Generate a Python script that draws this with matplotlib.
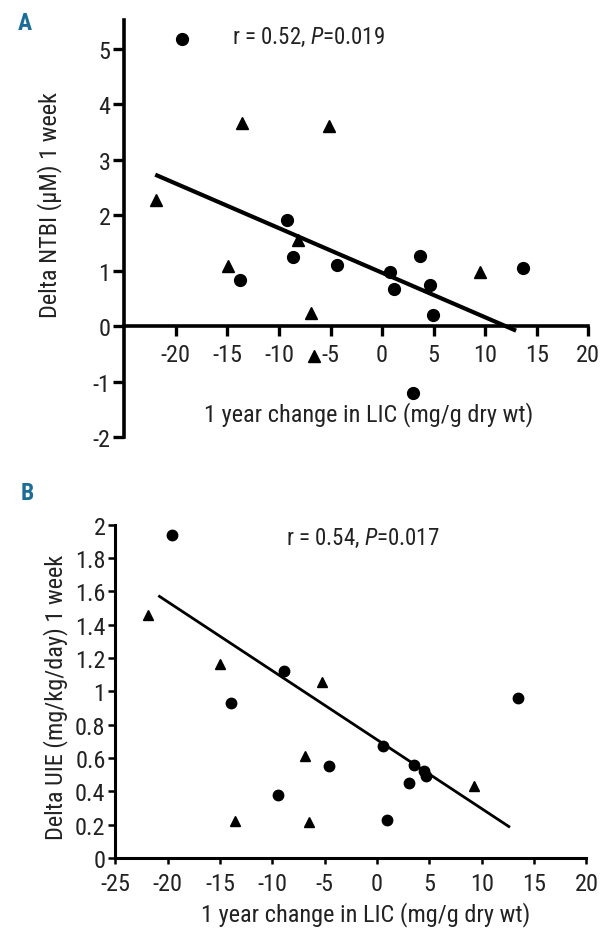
import matplotlib
matplotlib.use("Agg")
import matplotlib.pyplot as plt
from matplotlib import font_manager as fm

# pick a condensed sans that is installed
have = set(f.name for f in fm.fontManager.ttflist)
font = next(n for n in ['Roboto Condensed', 'Fira Sans Condensed', 'Sofia Sans Condensed', 'DejaVu Sans']
            if n in have)
plt.rcParams['font.family'] = [font, 'DejaVu Sans']
plt.rcParams['axes.unicode_minus'] = False
plt.rcParams['mathtext.fontset'] = 'custom'
plt.rcParams['mathtext.rm'] = font
plt.rcParams['mathtext.it'] = font + ':italic'

# panel A: delta NTBI vs change in LIC
a_circ_x = [-19.45, -9.2, -8.68, -13.82, -4.36, 0.74, 1.19, 3.71, 4.68, 4.95, 13.65, 3.0]
a_circ_y = [5.17, 1.91, 1.24, 0.83, 1.10, 0.97, 0.67, 1.27, 0.74, 0.20, 1.05, -1.20]
a_tri_x = [-21.9, -13.55, -5.1, -8.2, -14.95, -6.85, -6.6, 9.45]
a_tri_y = [2.28, 3.66, 3.60, 1.55, 1.08, 0.24, -0.53, 0.97]
a_fit_x = [-22.0, 13.0]
a_fit_y = [2.73, -0.08]
a_xticks = [-20, -15, -10, -5, 0, 5, 10, 15, 20]
a_yticks = [-2, -1, 0, 1, 2, 3, 4, 5]

# panel B: delta UIE vs change in LIC
b_circ_x = [-19.6, -8.85, -13.97, 0.54, -4.61, -9.42, 3.5, 4.45, 4.63, 3.05, 0.99, 13.5]
b_circ_y = [1.94, 1.12, 0.93, 0.67, 0.55, 0.38, 0.56, 0.52, 0.49, 0.45, 0.23, 0.96]
b_tri_x = [-21.84, -15.0, -5.25, -6.88, -13.56, -6.53, 9.3]
b_tri_y = [1.46, 1.165, 1.055, 0.61, 0.224, 0.218, 0.43]
b_fit_x = [-20.89, 12.7]
b_fit_y = [1.574, 0.184]
b_xticks = [-25, -20, -15, -10, -5, 0, 5, 10, 15, 20]
b_yticks = [0, 0.2, 0.4, 0.6, 0.8, 1.0, 1.2, 1.4, 1.6, 1.8, 2.0]
b_yticklabels = ['0', '0.2', '0.4', '0.6', '0.8', '1', '1.2', '1.4', '1.6', '1.8', '2']

fs = 17.5
fs_r = 16.5
teal = '#1b6f96'
txt = '#222222'

fig = plt.figure(figsize=(6.03, 9.29), dpi=100)

# ---- A ----
ax = fig.add_axes([0.2061, 0.5282, 0.7695, 0.4495])
ax.plot(a_circ_x, a_circ_y, 'o', color='black', markersize=8.5, clip_on=False)
ax.plot(a_tri_x, a_tri_y, '^', color='black', markersize=8, clip_on=False)
ax.plot(a_fit_x, a_fit_y, '-', color='black', lw=3, solid_capstyle='butt', clip_on=False)
ax.set_xlim(-25, 20)
ax.set_ylim(-2, 5.52)
ax.spines['right'].set_visible(False)
ax.spines['top'].set_visible(False)
ax.spines['bottom'].set_position(('data', 0))
for s in ['left', 'bottom']:
    ax.spines[s].set_linewidth(2.6)
ax.set_xticks(a_xticks)
ax.set_yticks(a_yticks)
ax.tick_params(axis='both', direction='out', width=2.4, labelsize=fs, colors='black',
               labelcolor=txt)
ax.tick_params(axis='x', length=7, pad=5)
ax.tick_params(axis='y', length=8, pad=2)
ax.set_xlabel('1 year change in LIC (mg/g dry wt)', fontsize=fs, va='center', color=txt)
ax.xaxis.set_label_coords(0.527, 0.056)
ax.set_ylabel('Delta NTBI (\u03bcM) 1 week', fontsize=fs, va='center', color=txt)
ax.yaxis.set_label_coords(-0.16, 0.559)
ax.text(0.232, 0.960, r'r = 0.52, $P$=0.019', transform=ax.transAxes,
        fontsize=fs_r, ha='left', va='center', color=txt)

# ---- B ----
bx = fig.add_axes([0.1912, 0.0754, 0.7813, 0.3588])
bx.plot(b_circ_x, b_circ_y, 'o', color='black', markersize=7.5, clip_on=False)
bx.plot(b_tri_x, b_tri_y, '^', color='black', markersize=7.5, clip_on=False)
bx.plot(b_fit_x, b_fit_y, '-', color='black', lw=2, solid_capstyle='butt', clip_on=False)
bx.set_xlim(-25, 20)
bx.set_ylim(0, 2)
bx.spines['right'].set_visible(False)
bx.spines['top'].set_visible(False)
for s in ['left', 'bottom']:
    bx.spines[s].set_linewidth(2.2)
bx.set_xticks(b_xticks)
bx.set_yticks(b_yticks)
bx.set_yticklabels(b_yticklabels)
bx.tick_params(axis='both', direction='out', width=1.8, labelsize=fs, colors='black',
               labelcolor=txt)
bx.tick_params(axis='x', length=4, pad=6)
bx.tick_params(axis='y', length=5, pad=2)
bx.set_xlabel('1 year change in LIC (mg/g dry wt)', fontsize=fs, va='center', color=txt)
bx.xaxis.set_label_coords(0.532, -0.168)
bx.set_ylabel('Delta UIE (mg/kg/day) 1 week', fontsize=fs, va='center', color=txt)
bx.yaxis.set_label_coords(-0.126, 0.486)
bx.text(0.362, 0.960, r'r = 0.54, $P$=0.017', transform=bx.transAxes,
        fontsize=fs_r, ha='left', va='center', color=txt)

fig.text(18 / 603, 1 - 24 / 929, 'A', fontsize=17, fontweight='bold', color=teal,
         ha='left', va='center')
fig.text(21 / 603, 1 - 494 / 929, 'B', fontsize=17, fontweight='bold', color=teal,
         ha='left', va='center')

fig.savefig('out.png', dpi=100)
